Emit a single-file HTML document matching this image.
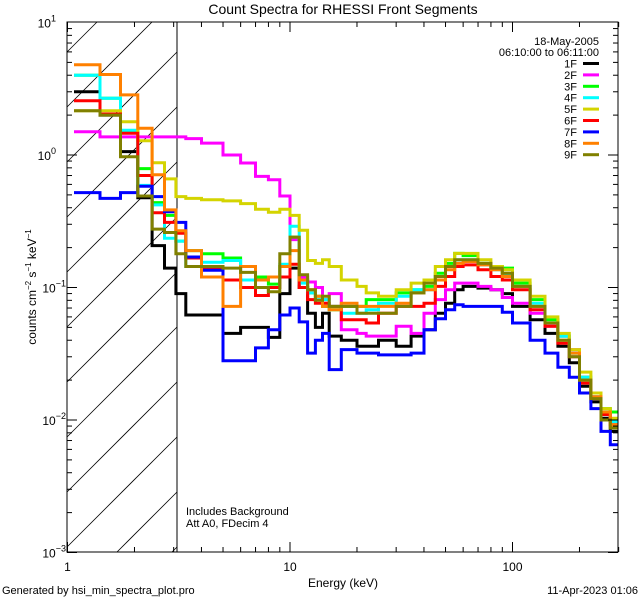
<!DOCTYPE html>
<html><head><meta charset="utf-8"><style>
html,body{margin:0;padding:0;background:#fff;width:640px;height:600px;overflow:hidden;}
svg{display:block;font-family:"Liberation Sans",sans-serif;}
</style></head><body>
<svg id="chart" width="640" height="600" viewBox="0 0 640 600" xmlns="http://www.w3.org/2000/svg">
<rect width="640" height="600" fill="#fff"/>
<defs><clipPath id="pclip"><rect x="67" y="22" width="551" height="530"/></clipPath></defs>
<g id="hatch"></g>
<line x1="177" y1="22" x2="177" y2="552" stroke="#000" stroke-width="1"/>
<g id="series" clip-path="url(#pclip)"></g>
<rect x="67" y="22" width="551" height="530" fill="none" stroke="#000" stroke-width="1"/>
<g id="ticks"></g>
<text x="343" y="14" font-size="14" text-anchor="middle">Count Spectra for RHESSI Front Segments</text>
<text x="599" y="45" font-size="11" text-anchor="end">18-May-2005</text>
<text x="599" y="56" font-size="11" text-anchor="end">06:10:00 to 06:11:00</text>
<g id="legend"></g>
<text x="186" y="515" font-size="11">Includes Background</text>
<text x="186" y="527" font-size="11">Att A0, FDecim 4</text>
<text x="343" y="587" font-size="12" text-anchor="middle">Energy (keV)</text>
<text transform="translate(36,287) rotate(-90)" font-size="12" text-anchor="middle">counts cm<tspan font-size="8" dy="-5">−2</tspan><tspan dy="5"> s</tspan><tspan font-size="8" dy="-5">−1</tspan><tspan dy="5"> keV</tspan><tspan font-size="8" dy="-5">−1</tspan></text>
<text x="2" y="594" font-size="11">Generated by hsi_min_spectra_plot.pro</text>
<text x="638" y="594" font-size="11" text-anchor="end">11-Apr-2023 01:06</text>
</svg>
<script>
const edges=[1.07,1.4,1.73,2.07,2.4,2.73,3.07,3.4,4,5,6,7,8,9,10,11,12,13,14,15,17,20,22,25,30,35,40,45,50,55,60,70,80,90,100,120,140,160,180,200,225,250,275,300];
const labels=["1F","2F","3F","4F","5F","6F","7F","8F","9F"];
const colors=["#000000","#ff00ff","#00ff00","#00ffff","#d4d400","#ff0000","#0000ff","#ff8000","#808000"];
const s1F=[3.0,2.0,1.06,0.476,0.207,0.14,0.09,0.062,0.062,0.045,0.05,0.05,0.042,0.09,0.14,0.10,0.064,0.05,0.064,0.043,0.040,0.036,0.036,0.040,0.036,0.043,0.048,0.064,0.076,0.096,0.102,0.099,0.096,0.09,0.072,0.057,0.045,0.036,0.027,0.018,0.0137,0.0103,0.0082];
const s2F=[1.5,1.37,1.37,1.37,1.37,1.37,1.37,1.33,1.23,1.0,0.87,0.69,0.65,0.49,0.23,0.12,0.11,0.10,0.081,0.09,0.048,0.045,0.043,0.043,0.051,0.045,0.064,0.081,0.096,0.108,0.108,0.102,0.096,0.084,0.076,0.064,0.051,0.043,0.034,0.021,0.015,0.0115,0.0097];
const s3F=[4.0,2.68,1.50,0.79,0.437,0.35,0.224,0.19,0.18,0.167,0.144,0.12,0.106,0.144,0.24,0.114,0.091,0.086,0.072,0.068,0.072,0.072,0.081,0.081,0.091,0.096,0.102,0.128,0.152,0.181,0.174,0.152,0.144,0.14,0.108,0.081,0.057,0.043,0.032,0.021,0.016,0.0122,0.0115];
const s4F=[4.0,2.68,1.54,0.59,0.42,0.235,0.224,0.144,0.155,0.16,0.114,0.10,0.10,0.15,0.29,0.108,0.091,0.081,0.081,0.072,0.064,0.064,0.068,0.076,0.086,0.096,0.096,0.121,0.144,0.162,0.162,0.148,0.136,0.125,0.102,0.076,0.054,0.043,0.032,0.021,0.015,0.0115,0.0097];
const s5F=[2.16,2.16,1.78,1.28,0.875,0.66,0.485,0.47,0.46,0.45,0.43,0.39,0.37,0.39,0.35,0.27,0.16,0.152,0.162,0.144,0.114,0.102,0.091,0.086,0.096,0.108,0.114,0.144,0.162,0.181,0.181,0.162,0.144,0.136,0.114,0.086,0.06,0.045,0.034,0.023,0.016,0.0122,0.0103];
const s6F=[2.57,2.04,1.46,0.70,0.367,0.31,0.257,0.167,0.14,0.114,0.10,0.087,0.10,0.12,0.15,0.10,0.081,0.076,0.076,0.072,0.057,0.057,0.054,0.064,0.072,0.072,0.076,0.102,0.121,0.144,0.148,0.136,0.121,0.114,0.096,0.068,0.051,0.038,0.030,0.019,0.0145,0.011,0.0092];
const s7F=[0.52,0.47,0.52,0.58,0.485,0.373,0.31,0.17,0.135,0.028,0.028,0.035,0.048,0.062,0.07,0.055,0.032,0.04,0.045,0.024,0.034,0.032,0.032,0.031,0.031,0.032,0.048,0.058,0.068,0.074,0.072,0.072,0.072,0.065,0.054,0.04,0.032,0.025,0.021,0.016,0.0122,0.0082,0.0065];
const s8F=[4.8,4.05,2.84,1.59,0.71,0.385,0.268,0.19,0.12,0.072,0.144,0.114,0.12,0.144,0.19,0.114,0.096,0.086,0.072,0.068,0.076,0.072,0.072,0.072,0.076,0.091,0.096,0.114,0.136,0.152,0.157,0.148,0.136,0.121,0.102,0.072,0.054,0.040,0.032,0.020,0.015,0.0115,0.0092];
const s9F=[2.16,2.0,0.97,0.49,0.276,0.26,0.18,0.144,0.144,0.14,0.13,0.10,0.093,0.18,0.24,0.125,0.096,0.08,0.086,0.072,0.072,0.064,0.064,0.064,0.072,0.091,0.108,0.121,0.144,0.162,0.162,0.152,0.14,0.128,0.102,0.072,0.054,0.040,0.030,0.020,0.0145,0.010,0.0087];
const xTickLabels=["1","10","100"];
const yTickExps=["1","0","-1","-2","-3"];

const NS="http://www.w3.org/2000/svg";
const X0=67.5,XD=222.5,Y0=155,YD=132.5;
function xs(e){return X0+XD*Math.log10(e);}
function ys(v){return Y0-YD*Math.log10(v);}
function mk(tag,attrs,parent){const el=document.createElementNS(NS,tag);for(const k in attrs)el.setAttribute(k,attrs[k]);parent.appendChild(el);return el;}

// hatch lines clipped manually to x 67..177, y 22..552 (slope -1)
const hatch=document.getElementById('hatch');
const HX0=67,HX1=177,HY0=22,HY1=552;
for(let c=HY0+30;c<HY1+(HX1-HX0);c+=55){
  // line: y = c - (x - HX0)
  let xa=HX0,ya=c,xb=HX1,yb=c-(HX1-HX0);
  if(ya>HY1){xa=HX0+(ya-HY1);ya=HY1;}
  if(yb<HY0){xb=HX0+(c-HY0);yb=HY0;}
  if(xa>=xb)continue;
  const l=mk('line',{x1:xa,y1:ya,x2:xb,y2:yb,stroke:'#000','stroke-width':0.8},hatch);
  
  
}

const all=[s1F,s2F,s3F,s4F,s5F,s6F,s7F,s8F,s9F];
const sg=document.getElementById('series');
all.forEach((vals,i)=>{
  let d='';
  vals.forEach((v,j)=>{
    const xa=xs(edges[j]),xb=xs(edges[j+1]),y=ys(v);
    d+=(j===0?'M':'L')+xa.toFixed(1)+','+y.toFixed(1)+'L'+xb.toFixed(1)+','+y.toFixed(1);
  });
  const p=mk('path',{d:d,fill:'none',stroke:colors[i],'stroke-width':3,'stroke-linejoin':'miter'},sg);
  
  
});

const lg=document.getElementById('legend');
labels.forEach((lab,i)=>{
  const y=63.5+11.4*i;
  const t=mk('text',{x:577,y:y+4,'font-size':11,'text-anchor':'end'},lg);
  t.textContent=lab;
  
  
  const l=mk('line',{x1:583,y1:y,x2:599,y2:y,stroke:colors[i],'stroke-width':3},lg);
  
  
});

const tg=document.getElementById('ticks');
for(let dec=0;dec<3;dec++){
  for(let m=1;m<10;m++){
    const e=m*Math.pow(10,dec);
    if(e>300)break;
    const x=xs(e);const len=m===1?10:5;
    const a=mk('line',{x1:x,y1:552,x2:x,y2:552-len,stroke:'#000'},tg);
    
    
    const b=mk('line',{x1:x,y1:22,x2:x,y2:22+len,stroke:'#000'},tg);
    
    
  }
}
xTickLabels.forEach(s=>{
  const t=mk('text',{x:xs(parseFloat(s)),y:571,'font-size':12,'text-anchor':'middle'},tg);
  t.textContent=s;
  
  
});
for(let p=-3;p<1;p++){
  for(let m=1;m<10;m++){
    const v=m*Math.pow(10,p);const y=ys(v);const len=m===1?10:5;
    const a=mk('line',{x1:67,y1:y,x2:67+len,y2:y,stroke:'#000'},tg);
    
    
    const b=mk('line',{x1:618,y1:y,x2:618-len,y2:y,stroke:'#000'},tg);
    
    
  }
}
yTickExps.forEach(s=>{
  const y=ys(Math.pow(10,parseFloat(s)));
  const t=mk('text',{x:56,y:y+5,'font-size':12,'text-anchor':'end'},tg);
  t.textContent='10';
  const sp=mk('tspan',{'font-size':9,dy:-6},t);
  sp.textContent=s.charAt(0)==='-'?'−'+s.slice(1):s;
  
  
  if(s.charAt(0)==='-'){t.setAttribute('x',66);}
});
</script>
</body></html>
